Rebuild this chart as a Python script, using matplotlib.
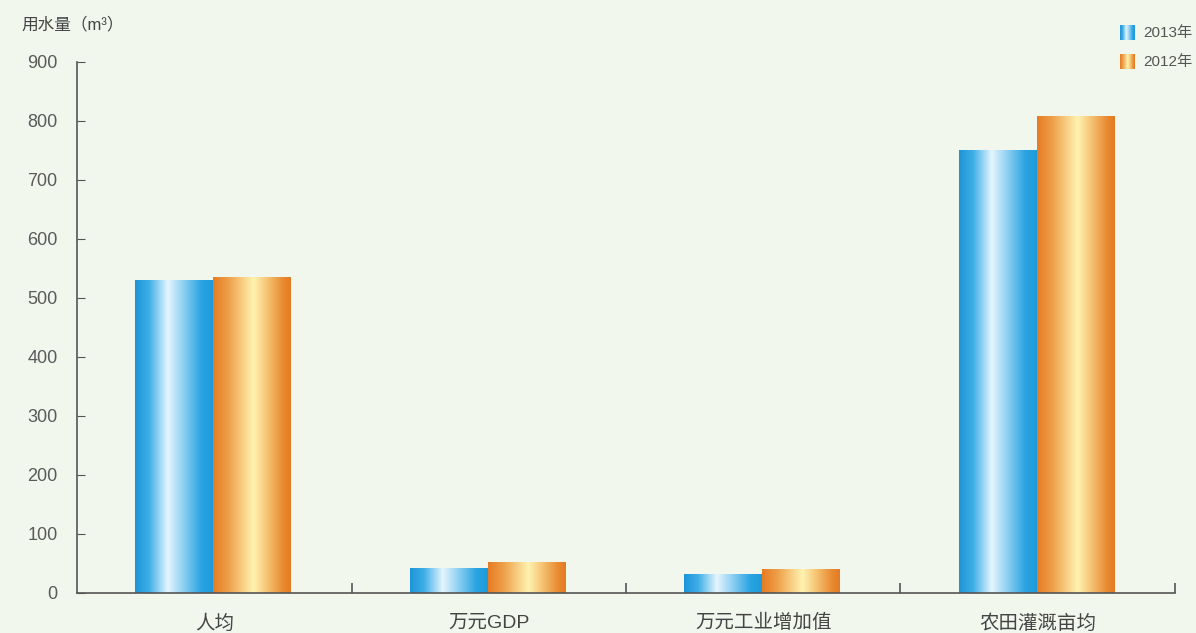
import numpy as np
import matplotlib
matplotlib.use('Agg')
import matplotlib.pyplot as plt
from matplotlib.colors import LinearSegmentedColormap

plt.rcParams['font.family'] = ['Liberation Sans', 'Noto Sans CJK SC']

categories = ['人均', '万元GDP', '万元工业增加值', '农田灌溉亩均']
vals_2013 = [530, 42, 32, 751]
vals_2012 = [535, 52, 40, 808]
series_labels = ['2013年', '2012年']
yticks = [0, 100, 200, 300, 400, 500, 600, 700, 800, 900]

BG = '#f2f7ee'
AXC = '#555555'

blue_cmap = LinearSegmentedColormap.from_list('blue', [
    (0.0, '#1c95d8'), (0.18, '#3eaee6'), (0.42, '#e4f5ff'),
    (0.62, '#8fd0f2'), (0.85, '#2aa4e2'), (1.0, '#1f9ad9')])
orange_cmap = LinearSegmentedColormap.from_list('orange', [
    (0.0, '#e57c24'), (0.2, '#efa04a'), (0.52, '#fff3b0'),
    (0.72, '#f4bd6c'), (0.9, '#e98a31'), (1.0, '#e47b22')])
grad = np.linspace(0, 1, 256).reshape(1, -1)


def gradient_bars(ax, bars, cmap):
    for b in bars:
        x0, y0 = b.get_x(), b.get_y()
        w, h = b.get_width(), b.get_height()
        im = ax.imshow(grad, cmap=cmap, aspect='auto', interpolation='bilinear',
                       extent=(x0, x0 + w, y0, y0 + h), zorder=2)
        im.set_clip_path(b)
        b.set_facecolor('none')


fig = plt.figure(figsize=(11.96, 6.33), dpi=100, facecolor=BG)
ax = fig.add_axes([0.0644, 0.0632, 0.918, 0.839], facecolor=BG)

x = np.arange(len(categories))
w = 0.284
b13 = ax.bar(x - w / 2 - 0.004, vals_2013, w, linewidth=0, zorder=2)
b12 = ax.bar(x + w / 2 - 0.004, vals_2012, w, linewidth=0, zorder=2)
gradient_bars(ax, b13, blue_cmap)
gradient_bars(ax, b12, orange_cmap)

ax.set_xlim(-0.5, 3.5)
ax.set_ylim(0, 900)

ax.spines['top'].set_visible(False)
ax.spines['right'].set_visible(False)
for s in ['left', 'bottom']:
    ax.spines[s].set_color(AXC)
    ax.spines[s].set_linewidth(1.2)

ax.set_yticks(yticks)
ax.set_yticklabels([str(v) for v in yticks])
ax.tick_params(axis='y', direction='in', length=6, color=AXC, labelsize=13,
               labelcolor='#5a5a5a', pad=14)
ax.set_xticks([0.5, 1.5, 2.5, 3.5])
ax.set_xticklabels([])
ax.tick_params(axis='x', direction='in', length=7, color=AXC, width=1.2)
for i, c in enumerate(categories):
    ax.text(i, -36, c, ha='center', va='top', fontsize=14, color='#444444',
            clip_on=False)

fig.text(0.018, 0.962, '用水量（m³）', fontsize=12, color='#444444', va='center')

# legend icons
ly = [949, 900]
cmaps = [blue_cmap, orange_cmap]
for yy, cm, lab in zip(ly, cmaps, series_labels):
    im = ax.imshow(grad, cmap=cm, aspect='auto', interpolation='bilinear',
                   extent=(3.3, 3.352, yy - 12, yy + 12), zorder=3)
    im.set_clip_on(False)
    ax.text(3.385, yy, lab, fontsize=11, color='#555555', va='center',
            clip_on=False)

fig.savefig('out.png', dpi=100, facecolor=BG)
